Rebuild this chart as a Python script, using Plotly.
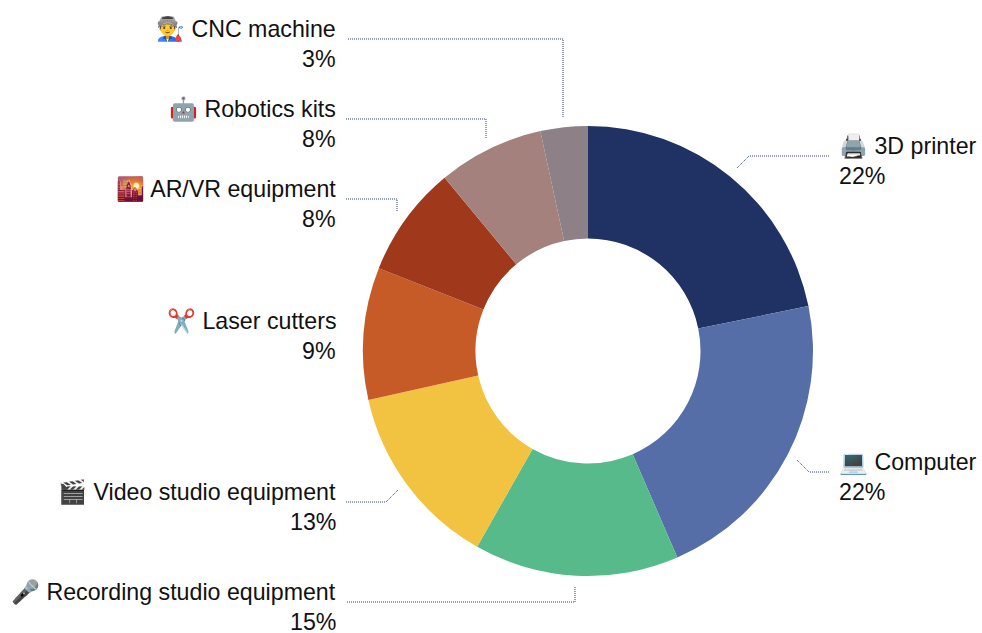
import plotly.graph_objects as go

categories = ["3D printer", "Computer", "Recording studio equipment", "Video studio equipment",
              "Laser cutters", "AR/VR equipment", "Robotics kits", "CNC machine"]
emojis = ["🖨️", "💻", "🎤", "🎬", "✂️", "🌇", "🤖", "👨‍🏭"]
values = [21.8, 21.7, 14.7, 13.3, 9.5, 8.0, 7.6, 3.4]
percent_labels = ["22%", "22%", "15%", "13%", "9%", "8%", "8%", "3%"]
colors = ["#1F3263", "#566EA8", "#57BA8B", "#F1C340", "#C65B28", "#A0391C", "#A5817E", "#8D8087"]

W, H = 982, 633
# label layout, in pixels: text anchor x, name y, side
label_pos = {
    "3D printer": (838, 146, "left"),
    "Computer": (838, 462, "left"),
    "Recording studio equipment": (337, 592, "right"),
    "Video studio equipment": (337, 492, "right"),
    "Laser cutters": (337, 321, "right"),
    "AR/VR equipment": (337, 189, "right"),
    "Robotics kits": (337, 109, "right"),
    "CNC machine": (337, 29, "right"),
}
# leader paths, in pixels
leaders = [
    [(737, 168), (749, 156), (830, 156)],
    [(797, 460), (809, 472), (830, 472)],
    [(575, 587), (575, 602), (346, 602)],
    [(398, 490), (386, 502), (346, 502)],
    [(397, 211), (397, 199), (346, 199)],
    [(486, 138), (486, 119), (346, 119)],
    [(563, 117), (563, 39), (347, 39)],
]

fig = go.Figure(go.Pie(
    labels=categories, values=values, hole=0.5, sort=False, direction="clockwise", rotation=0,
    marker=dict(colors=colors, line=dict(width=0)), textinfo="none",
    domain=dict(x=[363 / W, 813 / W], y=[1 - 576 / H, 1 - 126 / H]),
    showlegend=False,
))

font = dict(family="Liberation Sans, Arial, sans-serif", size=23.2, color="#111111")
def px(x, y):
    return x / W, 1 - y / H

annotations = []
for name, emoji, pct in zip(categories, emojis, percent_labels):
    x, y, side = label_pos[name]
    fx, fy = px(x, y)
    annotations.append(dict(x=fx, y=fy, xref="paper", yref="paper", text=f"{emoji} {name}", showarrow=False,
                            xanchor=side, yanchor="middle", font=font, borderpad=0))
    fx, fy = px(x, y + 30)
    annotations.append(dict(x=fx, y=fy, xref="paper", yref="paper", text=pct, showarrow=False,
                            xanchor=side, yanchor="middle", font=font, borderpad=0))

shapes = []
for path in leaders:
    d = "M " + " L ".join(f"{px(a, b)[0]:.5f},{px(a, b)[1]:.5f}" for a, b in path)
    shapes.append(dict(type="path", path=d, xref="paper", yref="paper",
                       line=dict(color="#2F3F85", width=1, dash="1px,1px")))

fig.update_layout(width=W, height=H, margin=dict(l=0, r=0, t=0, b=0), paper_bgcolor="white",
                  annotations=annotations, shapes=shapes)
fig.write_html("out.html", config={"displayModeBar": False},
               post_script="document.body.style.margin='0';document.body.style.overflow='hidden';")
